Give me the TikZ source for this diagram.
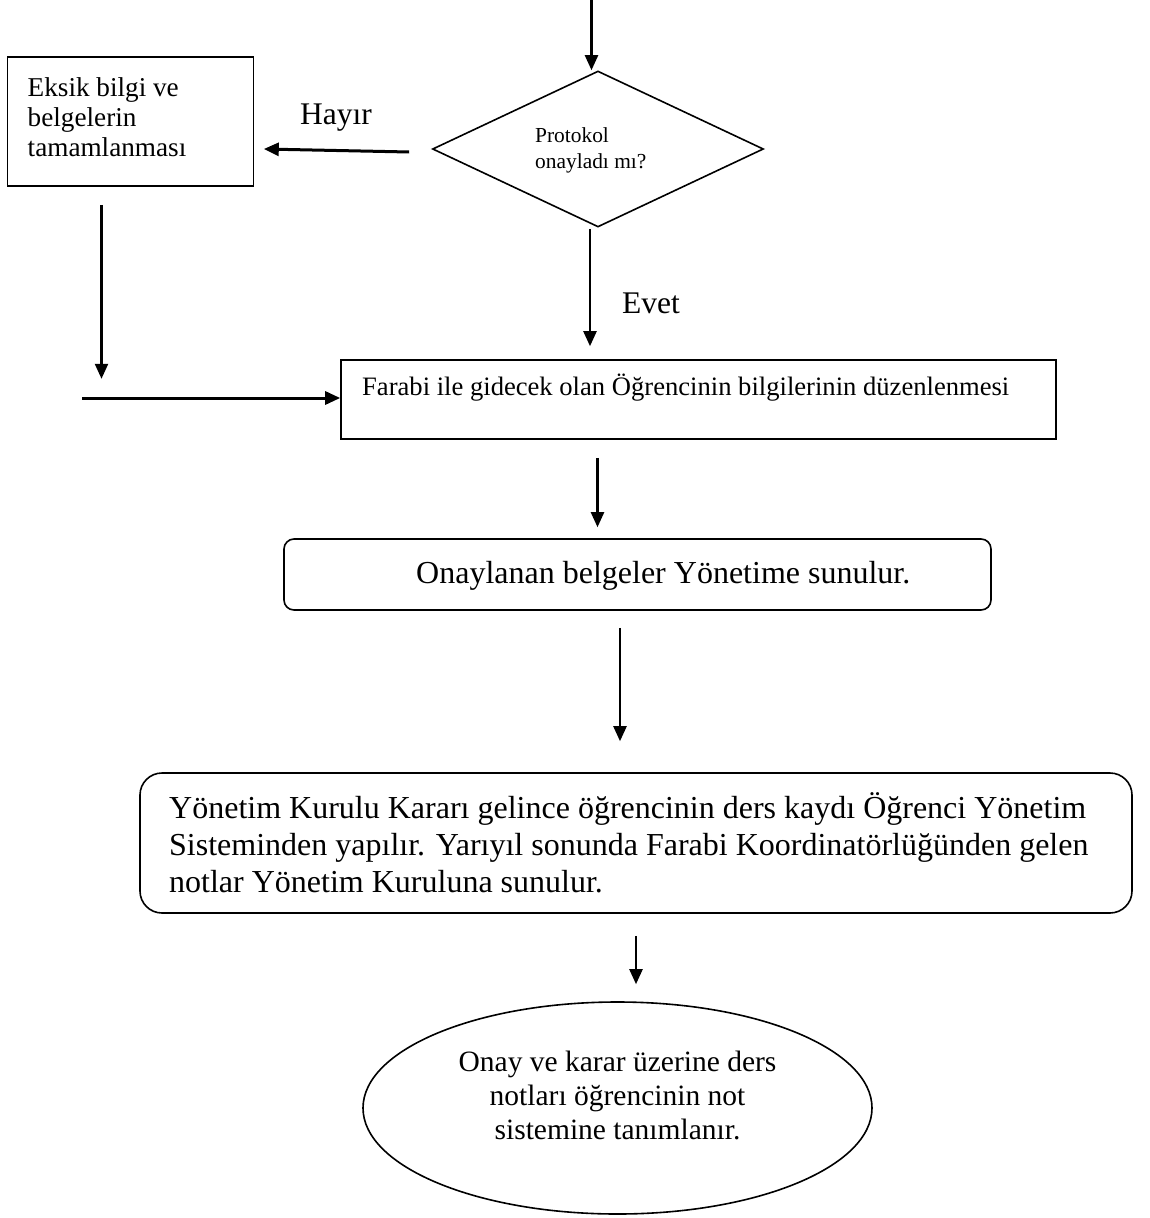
\documentclass[tikz,border=0pt]{standalone}
\usepackage{fontspec}
\setmainfont{Liberation Serif}
\usetikzlibrary{arrows.meta,shapes.geometric,calc}
\newcommand\leftlines[1]{\vtop{\halign{##\hfil\cr #1\crcr}}}
\newcommand\midlines[1]{\vtop{\halign{\hfil##\hfil\cr #1\crcr}}}
\tikzset{
  box/.style={draw, line width=1.6pt, inner sep=0pt},
  txt/.style={inner sep=0pt, anchor=base west},
  arr/.style={line width=2.3pt, -{Triangle[length=15pt,width=13pt]}},
  arrthick/.style={line width=3pt, -{Triangle[length=15pt,width=13pt]}},
}
\begin{document}
\begin{tikzpicture}[x=1pt,y=-1pt]
\useasboundingbox (0,0) rectangle (1149,1218);
% shapes
\node[box, minimum width=246pt, minimum height=129pt] (eksik) at (130.5,121.5) {};
\node[box, diamond, minimum width=331pt, minimum height=156pt, aspect=2.12] (dia) at (598,149) {};
\node[box, minimum width=715pt, minimum height=79pt] (farabi) at (698.5,399.5) {};
\node[box, rounded corners=10pt, minimum width=707pt, minimum height=71pt] (onay) at (637.5,574.5) {};
\node[box, rounded corners=22pt, minimum width=992pt, minimum height=140pt] (big) at (636,843) {};
\node[box, ellipse, minimum width=509pt, minimum height=212pt] (son) at (617.5,1108) {};
% texts
\node[txt, font=\fontsize{27.2}{30}\selectfont] (eksikT) at (27.5,96.7) {\leftlines{Eksik bilgi ve\cr belgelerin\cr tamamlanması}};
\node[txt, font=\fontsize{21.4}{26}\selectfont] (diaT) at (535,142) {\leftlines{Protokol\cr onayladı mı?}};
\node[txt, font=\fontsize{26.6}{31}\selectfont] (farabiT) at (362,395) {Farabi ile gidecek olan Öğrencinin bilgilerinin düzenlenmesi};
\node[txt, font=\fontsize{32}{37}\selectfont] (onayT) at (416,583) {Onaylanan belgeler Yönetime sunulur.};
\node[txt, font=\fontsize{32}{37}\selectfont] (bigT) at (169,818) {\leftlines{Yönetim Kurulu Kararı gelince öğrencinin ders kaydı Öğrenci Yönetim\cr Sisteminden yapılır. Yarıyıl sonunda Farabi Koordinatörlüğünden gelen\cr notlar Yönetim Kuruluna sunulur.}};
\node[inner sep=0pt, anchor=base, font=\fontsize{29.5}{34}\selectfont] (sonT) at (617.5,1071) {\midlines{Onay ve karar üzerine ders\cr notları öğrencinin not\cr sistemine tanımlanır.}};
% labels
\node[txt, font=\fontsize{31.5}{36}\selectfont] (hayir) at (300,124) {Hayır};
\node[txt, font=\fontsize{31.5}{36}\selectfont] (evet) at (622,313) {Evet};
% free ends
\coordinate (top) at (591.5,0);
\coordinate (hs) at (82,398);
% connectors
\draw[arr] (top) -- (top |- dia.north);
\draw[arrthick] ($(dia.west)+(-22.5,3)$) -- ($(eksik.east)+(9.5,27.5)$);
\draw[arr] ($(dia.south)+(-8,1)$) -- ($(dia.south |- farabi.north)+(-8,-13)$);
\draw[arr] ($(eksik.south)+(-29,18)$) -- ($(eksik.south)+(-29,192)$);
\draw[arrthick] (hs) -- (hs -| farabi.west);
\draw[arr] ($(farabi.south)+(-101,18)$) -- ($(onay.north)+(-40,-11)$);
\draw[arr] ($(onay.south)+(-17.5,17)$) -- ($(big.north)+(-16,-31)$);
\draw[arr] ($(big.south)+(0,22)$) -- ($(son.north)+(18.5,-17)$);
\end{tikzpicture}
\end{document}
